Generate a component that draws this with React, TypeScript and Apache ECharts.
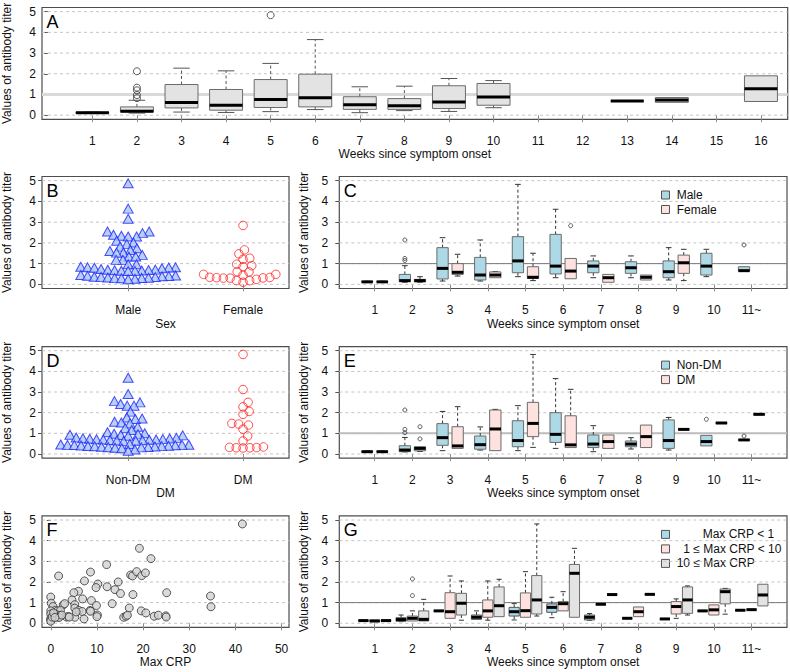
import React, { useEffect, useRef } from 'react';
import * as echarts from 'echarts';

const FONT = "'Liberation Sans', Arial, Helvetica, sans-serif";

// ---------- tick labels ----------
const weeksA = [1, 2, 3, 4, 5, 6, 7, 8, 9, 10, 11, 12, 13, 14, 15, 16];
const weekTicks = [1, 2, 3, 4, 5, 6, 7, 8, 9, 10, 11];
const weekLabels = ['1', '2', '3', '4', '5', '6', '7', '8', '9', '10', '11~'];
const groupTicks = [1, 2];
const sexLabels = ['Male', 'Female'];
const dmLabels = ['Non-DM', 'DM'];
const crpTicks = [0, 10, 20, 30, 40, 50];
const yTicks = [0, 1, 2, 3, 4, 5];

// ---------- Panel A: [week, min, q1, median, q3, max] ----------
const boxA = [
  [1, 0.09, 0.1, 0.12, 0.14, 0.15],
  [2, 0.1, 0.16, 0.19, 0.4, 0.72],
  [3, 0.15, 0.35, 0.61, 1.48, 2.27],
  [4, 0.13, 0.24, 0.48, 1.24, 2.14],
  [5, 0.17, 0.37, 0.76, 1.72, 2.5],
  [6, 0.27, 0.4, 0.84, 1.98, 3.65],
  [7, 0.12, 0.28, 0.5, 0.89, 1.37],
  [8, 0.22, 0.28, 0.46, 0.8, 1.4],
  [9, 0.18, 0.32, 0.63, 1.42, 1.77],
  [10, 0.36, 0.48, 0.88, 1.53, 1.67],
  [13, 0.68, 0.68, 0.68, 0.68, 0.68],
  [14, 0.62, 0.62, 0.73, 0.85, 0.85],
  [16, 0.66, 0.66, 1.28, 1.9, 1.9],
];
const outA = [[2, 2.12], [2, 1.33], [2, 1.2], [2, 0.97], [2, 0.82], [5, 4.83]];

// ---------- Panel B (Sex) ----------
const maleTiter = [
  4.87, 3.65, 3.16,
  2.55, 2.55, 2.47, 2.39, 2.34, 2.31, 2.31,
  2.1, 2.02, 1.94,
  1.82, 1.74, 1.66, 1.61, 1.53, 1.53, 1.42, 1.34, 1.34, 1.18, 1.18, 0.97, 0.97, 0.85,
  0.82, 0.82, 0.81, 0.8, 0.78, 0.74, 0.71, 0.7, 0.69, 0.68, 0.67, 0.66, 0.65, 0.64,
  0.45, 0.43, 0.41, 0.4, 0.39, 0.37, 0.36, 0.35, 0.33, 0.32, 0.31, 0.3, 0.29, 0.27, 0.25,
];
const femaleTiter = [
  2.84, 1.66, 1.47, 1.26, 1.21, 0.97, 0.9, 0.85, 0.61, 0.6, 0.48, 0.48, 0.44,
  0.34, 0.33, 0.32, 0.31, 0.3, 0.3, 0.24, 0.18, 0.18, 0.1,
];

// ---------- Panel C (weekly by sex) ----------
const cMale = [
  [1, 0.1, 0.11, 0.12, 0.14, 0.15],
  [2, 0.1, 0.13, 0.18, 0.48, 0.9],
  [3, 0.16, 0.26, 0.77, 1.77, 2.25],
  [4, 0.16, 0.21, 0.45, 1.3, 2.14],
  [5, 0.37, 0.56, 1.13, 2.3, 4.82],
  [6, 0.32, 0.5, 0.88, 2.41, 3.62],
  [7, 0.32, 0.56, 0.88, 1.13, 1.37],
  [8, 0.32, 0.53, 0.8, 1.09, 1.37],
  [9, 0.21, 0.32, 0.61, 1.13, 1.77],
  [10, 0.37, 0.45, 0.88, 1.5, 1.69],
  [11, 0.64, 0.64, 0.66, 0.85, 0.85],
];
const cMaleOut = [[2, 1.25], [2, 1.15], [2, 2.14], [11, 1.9]];
const cFemale = [
  [1, 0.1, 0.11, 0.12, 0.14, 0.15],
  [2, 0.1, 0.12, 0.18, 0.24, 0.37],
  [3, 0.4, 0.48, 0.58, 1.0, 1.45],
  [4, 0.32, 0.32, 0.45, 0.6, 0.62],
  [5, 0.18, 0.29, 0.34, 0.85, 1.5],
  [6, 0.27, 0.27, 0.64, 1.25, 1.25],
  [7, 0.1, 0.1, 0.32, 0.48, 0.48],
  [8, 0.21, 0.21, 0.34, 0.45, 0.45],
  [9, 0.18, 0.53, 1.04, 1.41, 1.69],
];
const cFemaleOut = [[6, 2.83]];

// ---------- Panel D (DM) ----------
const nonDmTiter = [
  3.69, 2.9, 2.56, 2.5, 2.42, 2.34, 2.34, 2.05, 1.77, 1.72, 1.69, 1.56, 1.52, 1.48, 1.32, 1.25, 1.16,
  1.05, 1.0, 0.98, 0.95, 0.93, 0.92, 0.9, 0.88,
  0.8, 0.78, 0.76, 0.75, 0.74, 0.72, 0.71, 0.7, 0.7, 0.69, 0.68, 0.66, 0.65, 0.64, 0.62,
  0.48, 0.46, 0.45, 0.44, 0.44, 0.43, 0.42, 0.41, 0.4, 0.39, 0.38, 0.37, 0.36, 0.35, 0.34,
  0.33, 0.32, 0.3, 0.28, 0.22, 0.16,
];
const dmTiter = [
  4.82, 3.12, 2.5, 2.28, 2.06, 1.92, 1.48, 1.45, 1.4, 1.2, 0.87, 0.63, 0.34, 0.32, 0.31, 0.3, 0.3, 0.29,
];

// ---------- Panel E (weekly by DM) ----------
const eNonDm = [
  [1, 0.09, 0.1, 0.11, 0.13, 0.14],
  [2, 0.1, 0.11, 0.19, 0.4, 0.8],
  [3, 0.16, 0.42, 0.79, 1.47, 2.06],
  [4, 0.19, 0.23, 0.45, 0.87, 1.31],
  [5, 0.16, 0.35, 0.65, 1.61, 2.34],
  [6, 0.27, 0.56, 0.95, 2.0, 3.65],
  [7, 0.11, 0.31, 0.48, 0.92, 1.37],
  [8, 0.24, 0.35, 0.48, 0.63, 0.79],
  [9, 0.19, 0.27, 0.65, 1.65, 1.77],
  [10, 0.39, 0.39, 0.6, 0.9, 0.9],
  [11, 0.66, 0.66, 0.68, 0.7, 0.7],
];
const eNonDmOut = [[2, 2.13], [2, 1.19], [2, 1.03], [10, 1.68], [11, 0.87]];
const eDm = [
  [1, 0.09, 0.1, 0.11, 0.13, 0.14],
  [2, 0.12, 0.15, 0.27, 0.35, 0.35],
  [3, 0.27, 0.27, 0.39, 1.32, 2.29],
  [4, 0.16, 0.16, 1.21, 2.13, 2.16],
  [5, 0.32, 0.84, 1.48, 2.5, 4.82],
  [6, 0.31, 0.31, 0.44, 1.85, 3.13],
  [7, 0.27, 0.27, 0.6, 0.92, 0.92],
  [8, 0.31, 0.31, 0.84, 1.4, 1.4],
  [9, 1.19, 1.19, 1.19, 1.19, 1.19],
  [10, 1.48, 1.48, 1.5, 1.52, 1.52],
  [11, 1.9, 1.9, 1.92, 1.94, 1.94],
];
const eDmOut = [[2, 1.32], [2, 0.73]];

// ---------- Panel F (Max CRP vs titer) ----------
const crpValues = [
  41.5, 19.2, 21.7, 12.1, 8.6, 1.7, 17.3, 17.7, 18.6, 19.7, 20.5, 7.3, 10.2, 9.8, 12.2, 14.6, 13.9,
  15.1, 17.8, 25.1, 6.0, 5.0, 34.6, 34.7, 6.9, 4.6, 8.8, 0, 0.1, 0.5, 2.7, 3.0, 5.2, 9.9, 13.3, 17.0,
  5.2, 6.1, 6.8, 8.5, 8.6, 10.1, 10.0, 7.2, 5.2, 19.6, 20.6, 15.8, 16.3, 16.6, 22.4, 23.3, 24.9, 25.0,
  1.0, 1.5, 2.1, 1.2, 2.0, 3.4, 3.8, 1.5, 1.8, 0, 0, 0, 0, 0, 0.3, 0.6, 2.4, 4.0, 5.5, 0.9,
];
const crpTiter = [
  4.81, 3.63, 3.13, 2.84, 2.48, 2.29, 2.34, 2.29, 2.5, 2.31, 2.44, 2.05, 1.9, 1.73, 1.77, 2.0, 1.63,
  1.44, 1.39, 1.48, 1.55, 1.48, 1.32, 0.8, 1.18, 1.13, 1.1, 1.27, 0.97, 0.81, 0.89, 0.95, 0.9, 0.86, 0.95, 0.74,
  0.73, 0.62, 0.57, 0.62, 0.58, 0.4, 0.32, 0.21, 0.29, 0.6, 0.5, 0.29, 0.34, 0.39, 0.34, 0.39, 0.36, 0.3,
  0.62, 0.6, 0.62, 0.42, 0.38, 0.3, 0.33, 0.3, 0.28, 0.6, 0.45, 0.24, 0.16, 0.1, 0.3, 0.5, 0.4, 0.3, 0.55, 0.28,
];

// ---------- Panel G (weekly by Max CRP) ----------
const gLow = [
  [1, 0.13, 0.13, 0.13, 0.13, 0.13],
  [2, 0.08, 0.1, 0.18, 0.27, 0.4],
  [3, 0.6, 0.6, 0.6, 0.6, 0.6],
  [4, 0.19, 0.19, 0.29, 0.4, 0.6],
  [5, 0.16, 0.35, 0.56, 0.77, 0.95],
  [6, 0.27, 0.53, 0.77, 0.94, 1.26],
  [7, 0.15, 0.16, 0.29, 0.4, 0.47],
  [8, 0.24, 0.24, 0.24, 0.24, 0.24],
  [9, 0.21, 0.21, 0.21, 0.21, 0.21],
  [10, 0.6, 0.6, 0.6, 0.6, 0.6],
  [11, 0.63, 0.63, 0.63, 0.63, 0.63],
];
const gMid = [
  [1, 0.08, 0.08, 0.11, 0.16, 0.16],
  [2, 0.11, 0.11, 0.24, 0.35, 0.6],
  [3, 0.24, 0.24, 0.56, 1.48, 2.29],
  [4, 0.15, 0.29, 0.6, 1.13, 2.05],
  [5, 0.29, 0.29, 0.61, 1.47, 2.5],
  [6, 0.6, 0.6, 0.95, 1.05, 1.53],
  [7, 0.92, 0.92, 0.92, 0.92, 0.92],
  [8, 0.32, 0.32, 0.56, 0.79, 0.79],
  [9, 0.24, 0.45, 0.81, 1.05, 1.18],
  [10, 0.4, 0.4, 0.65, 0.89, 0.89],
  [11, 0.66, 0.66, 0.66, 0.66, 0.66],
];
const gMidOut = [[2, 2.15], [2, 1.34]];
const gHigh = [
  [1, 0.13, 0.13, 0.13, 0.13, 0.13],
  [2, 0.11, 0.11, 0.19, 0.6, 1.16],
  [3, 0.15, 0.4, 0.97, 1.45, 2.05],
  [4, 0.32, 0.32, 0.85, 1.76, 2.13],
  [5, 0.35, 0.45, 1.13, 2.31, 4.81],
  [6, 0.29, 0.29, 2.42, 2.85, 3.63],
  [7, 1.39, 1.39, 1.39, 1.39, 1.39],
  [8, 1.4, 1.4, 1.4, 1.4, 1.4],
  [9, 0.4, 0.48, 1.13, 1.76, 1.81],
  [10, 0.44, 0.94, 1.53, 1.66, 1.69],
  [11, 0.84, 0.84, 1.37, 1.89, 1.89],
];

// ---------- layout ----------
type Rect = { left: number; top: number; width: number; height: number };
const grids: Rect[] = [
  { left: 42, top: 7.5, width: 745.7, height: 111.8 }, // A
  { left: 42, top: 176.5, width: 247, height: 112 }, // B
  { left: 339.3, top: 176.5, width: 447.7, height: 112 }, // C
  { left: 42, top: 346.6, width: 247, height: 111.5 }, // D
  { left: 339.3, top: 346.6, width: 447.7, height: 111.5 }, // E
  { left: 42, top: 515.9, width: 247, height: 111.5 }, // F
  { left: 339.3, top: 515.9, width: 447.7, height: 111.5 }, // G
];
const Y_MIN = -0.2;
const Y_MAX = 5.2;
const xRanges: [number, number][] = [
  [-0.13, 16.6],
  [0.25, 2.4],
  [0.06, 11.94],
  [0.25, 2.4],
  [0.06, 11.94],
  [-1.9, 51.6],
  [0.06, 11.94],
];

const BLUE = '#add8e6';
const PINK = '#fde2df';
const GREY = '#e3e3e3';
const TXT = '#111111';

function swarmOffsets(values: number[], yPx: number, d: number): number[] {
  const idx = values.map((_, i) => i).sort((a, b) => values[a] - values[b]);
  const placed: { x: number; y: number }[] = [];
  const out = new Array(values.length).fill(0);
  for (const i of idx) {
    const y = values[i] * yPx;
    const near = placed.filter((p) => Math.abs(p.y - y) < d);
    const cands = [0];
    for (const p of near) {
      const dx = Math.sqrt(d * d - (p.y - y) * (p.y - y));
      cands.push(p.x + dx, p.x - dx);
    }
    cands.sort((a, b) => Math.abs(a) - Math.abs(b) || b - a);
    let chosen = 0;
    for (const c of cands) {
      if (near.every((p) => (p.x - c) ** 2 + (p.y - y) ** 2 >= d * d - 1e-6)) {
        chosen = c;
        break;
      }
    }
    placed.push({ x: chosen, y });
    out[i] = chosen;
  }
  return out;
}

function swarmData(values: number[], center: number, gi: number) {
  const g = grids[gi];
  const [x0, x1] = xRanges[gi];
  const yPx = g.height / (Y_MAX - Y_MIN);
  const xPx = g.width / (x1 - x0);
  const offs = swarmOffsets(values, yPx, 6.8);
  return values.map((v, i) => [center + offs[i] / xPx, v]);
}

function boxSeries(gi: number, data: number[][], offset: number, halfW: number, fill: string, stroke: string, whisk: string) {
  return {
    type: 'custom',
    xAxisIndex: gi,
    yAxisIndex: gi,
    z: 3,
    silent: true,
    data,
    encode: { x: 0, y: [1, 2, 3, 4, 5] },
    renderItem: (_params: any, api: any) => {
      const x = api.value(0) + offset;
      const mn = api.value(1), q1 = api.value(2), md = api.value(3), q3 = api.value(4), mx = api.value(5);
      const c = (xx: number, yy: number) => api.coord([xx, yy]);
      const children: any[] = [];
      const dashStyle = { stroke: whisk, lineWidth: 1, lineDash: [3, 2.5], fill: null };
      const capStyle = { stroke: whisk, lineWidth: 1, fill: null };
      const seg = (a: number[], b: number[], style: any) => ({
        type: 'line',
        shape: { x1: a[0], y1: a[1], x2: b[0], y2: b[1] },
        style,
      });
      if (mx > q3) {
        children.push(seg(c(x, q3), c(x, mx), dashStyle));
        children.push(seg(c(x - halfW / 2, mx), c(x + halfW / 2, mx), capStyle));
      }
      if (mn < q1) {
        children.push(seg(c(x, q1), c(x, mn), dashStyle));
        children.push(seg(c(x - halfW / 2, mn), c(x + halfW / 2, mn), capStyle));
      }
      const L = c(x - halfW, q3);
      const R = c(x + halfW, q1);
      children.push({
        type: 'rect',
        shape: { x: L[0], y: L[1], width: R[0] - L[0], height: R[1] - L[1] },
        style: { fill, stroke, lineWidth: 1 },
      });
      children.push(seg(c(x - halfW, md), c(x + halfW, md), { stroke: '#000', lineWidth: 3, fill: null }));
      return { type: 'group', children };
    },
  };
}

function outlierSeries(gi: number, pts: number[][], offset: number, size: number) {
  return {
    type: 'scatter',
    xAxisIndex: gi,
    yAxisIndex: gi,
    z: 4,
    silent: true,
    symbol: 'circle',
    symbolSize: size,
    data: pts.map(([w, v]) => [w + offset, v]),
    itemStyle: { color: 'rgba(0,0,0,0)', borderColor: '#333', borderWidth: 1 },
  };
}

function hLineSeries(gi: number, values: number[], style: any, z: number) {
  const x0 = xRanges[gi][0];
  return {
    type: 'custom',
    xAxisIndex: gi,
    yAxisIndex: gi,
    z,
    silent: true,
    data: values.map((v) => [x0, v]),
    encode: { x: 0, y: 1 },
    renderItem: (params: any, api: any) => {
      const cs = params.coordSys;
      const y = api.coord([api.value(0), api.value(1)])[1];
      return {
        type: 'line',
        shape: { x1: cs.x, y1: y, x2: cs.x + cs.width, y2: y },
        style: style,
      };
    },
  };
}

function labelOf(ticks: number[], labels: string[]) {
  return (v: number) => {
    const i = ticks.findIndex((t) => Math.abs(t - v) < 1e-6);
    return i >= 0 ? labels[i] : '';
  };
}

function xAxisCfg(gi: number, ticks: number[], labels: string[], name: string) {
  return {
    type: 'value',
    gridIndex: gi,
    min: xRanges[gi][0],
    max: xRanges[gi][1],
    axisLine: { show: false },
    splitLine: { show: false },
    axisTick: { show: true, customValues: ticks, length: 7, lineStyle: { color: '#8c8c8c' } },
    axisLabel: {
      customValues: ticks,
      formatter: labelOf(ticks, labels),
      margin: 15.5,
      fontSize: 12,
      color: TXT,
      fontFamily: FONT,
    },
    name,
    nameLocation: 'middle',
    nameGap: 29,
    nameTextStyle: { fontSize: 12, color: TXT, fontFamily: FONT },
  };
}

function yAxisCfg(gi: number, right: boolean) {
  return {
    type: 'value',
    gridIndex: gi,
    min: Y_MIN,
    max: Y_MAX,
    axisLine: { show: false },
    splitLine: { show: false },
    axisTick: { show: true, customValues: yTicks, length: 4, lineStyle: { color: '#555' } },
    axisLabel: {
      customValues: yTicks,
      formatter: (v: number) => String(Math.round(v)),
      margin: right ? 11 : 6,
      fontSize: 12,
      color: TXT,
      fontFamily: FONT,
    },
    name: 'Values of antibody titer',
    nameLocation: 'middle',
    nameGap: 29,
    nameTextStyle: { fontSize: 12, color: TXT, fontFamily: FONT },
  };
}

const gridLineStyle = { stroke: '#c4c4c4', lineWidth: 1, lineDash: [3, 3], fill: null };

function legendGraphics(gi: number, items: { label: string; color: string; dx: number }[]) {
  const g = grids[gi];
  const out: any[] = [];
  items.forEach((it, i) => {
    const cy = g.top + 18.5 + i * 14.5;
    out.push({
      type: 'rect',
      shape: { x: 661.5, y: cy - 4, width: 8, height: 8 },
      style: { fill: it.color, stroke: '#555', lineWidth: 1 },
      silent: true,
    });
    out.push({
      type: 'text',
      x: 676.7 + it.dx,
      y: cy,
      style: {
        text: it.label,
        fill: TXT,
        font: `12px ${FONT}`,
        textAlign: 'left',
        align: 'left',
        textVerticalAlign: 'middle',
        verticalAlign: 'middle',
      },
      silent: true,
    });
  });
  return out;
}

function letterGraphic(gi: number, letter: string) {
  const g = grids[gi];
  return {
    type: 'text',
    x: g.left + 4.5,
    y: g.top + 14.5,
    style: {
      text: letter,
      fill: '#000',
      font: `18px ${FONT}`,
      textAlign: 'left',
      align: 'left',
      textVerticalAlign: 'middle',
      verticalAlign: 'middle',
    },
    silent: true,
  };
}

export default function App() {
  const ref = useRef<HTMLDivElement>(null);
  useEffect(() => {
    if (!ref.current) return;
    const chart = echarts.init(ref.current, undefined, { renderer: 'svg' });

    const series: any[] = [];
    for (let gi = 0; gi < 7; gi++) series.push(hLineSeries(gi, yTicks, gridLineStyle, 1));
    series.push(hLineSeries(0, [1], { stroke: '#d9d9d9', lineWidth: 3, fill: null }, 2));
    series.push(hLineSeries(2, [1], { stroke: '#7a7a7a', lineWidth: 1, fill: null }, 2));
    series.push(hLineSeries(4, [1], { stroke: '#bdbdbd', lineWidth: 2, fill: null }, 2));
    series.push(hLineSeries(6, [1], { stroke: '#7a7a7a', lineWidth: 1, fill: null }, 2));

    // A
    series.push(boxSeries(0, boxA, 0, 0.37, GREY, '#6b6b6b', '#555'));
    series.push(outlierSeries(0, outA, 0, 7));

    // B
    series.push({
      type: 'scatter', xAxisIndex: 1, yAxisIndex: 1, z: 4, silent: true,
      symbol: 'triangle', symbolSize: [10, 9],
      data: swarmData(maleTiter, 1, 1),
      itemStyle: { color: '#a3c7ef', borderColor: '#1f1fff', borderWidth: 1 },
    });
    series.push({
      type: 'scatter', xAxisIndex: 1, yAxisIndex: 1, z: 4, silent: true,
      symbol: 'circle', symbolSize: 8.5,
      data: swarmData(femaleTiter, 2, 1),
      itemStyle: { color: 'rgba(0,0,0,0)', borderColor: '#ff2020', borderWidth: 1 },
    });

    // C
    series.push(boxSeries(2, cMale, -0.2, 0.15, BLUE, '#6b6b6b', '#333'));
    series.push(boxSeries(2, cFemale, 0.2, 0.15, PINK, '#6b6b6b', '#333'));
    series.push(outlierSeries(2, cMaleOut, -0.2, 4));
    series.push(outlierSeries(2, cFemaleOut, 0.2, 4));

    // D
    series.push({
      type: 'scatter', xAxisIndex: 3, yAxisIndex: 3, z: 4, silent: true,
      symbol: 'triangle', symbolSize: [10, 9],
      data: swarmData(nonDmTiter, 1, 3),
      itemStyle: { color: '#a3c7ef', borderColor: '#1f1fff', borderWidth: 1 },
    });
    series.push({
      type: 'scatter', xAxisIndex: 3, yAxisIndex: 3, z: 4, silent: true,
      symbol: 'circle', symbolSize: 8.5,
      data: swarmData(dmTiter, 2, 3),
      itemStyle: { color: 'rgba(0,0,0,0)', borderColor: '#ff2020', borderWidth: 1 },
    });

    // E
    series.push(boxSeries(4, eNonDm, -0.2, 0.15, BLUE, '#6b6b6b', '#333'));
    series.push(boxSeries(4, eDm, 0.2, 0.15, PINK, '#6b6b6b', '#333'));
    series.push(outlierSeries(4, eNonDmOut, -0.2, 4));
    series.push(outlierSeries(4, eDmOut, 0.2, 4));

    // F
    series.push({
      type: 'scatter', xAxisIndex: 5, yAxisIndex: 5, z: 4, silent: true,
      symbol: 'circle', symbolSize: 8,
      data: crpValues.map((c, i) => [c, crpTiter[i]]),
      itemStyle: { color: '#d2d2d2', borderColor: '#333', borderWidth: 1 },
    });

    // G
    series.push(boxSeries(6, gLow, -0.3, 0.135, BLUE, '#555', '#333'));
    series.push(boxSeries(6, gMid, 0, 0.135, PINK, '#6b6b6b', '#333'));
    series.push(boxSeries(6, gHigh, 0.3, 0.135, GREY, '#6b6b6b', '#333'));
    series.push(outlierSeries(6, gMidOut, 0, 4));

    const graphic: any[] = [
      letterGraphic(0, 'A'),
      letterGraphic(1, 'B'),
      letterGraphic(2, 'C'),
      letterGraphic(3, 'D'),
      letterGraphic(4, 'E'),
      letterGraphic(5, 'F'),
      letterGraphic(6, 'G'),
      ...legendGraphics(2, [
        { label: 'Male', color: BLUE, dx: 0 },
        { label: 'Female', color: PINK, dx: 0 },
      ]),
      ...legendGraphics(4, [
        { label: 'Non-DM', color: BLUE, dx: 0 },
        { label: 'DM', color: PINK, dx: 0 },
      ]),
      ...legendGraphics(6, [
        { label: 'Max CRP < 1', color: BLUE, dx: 26 },
        { label: '1 \u2264 Max CRP < 10', color: PINK, dx: 6.6 },
        { label: '10 \u2264 Max CRP', color: GREY, dx: 0 },
      ]),
    ];

    chart.setOption({
      animation: false,
      backgroundColor: '#ffffff',
      textStyle: { fontFamily: FONT },
      grid: grids.map((g) => ({
        ...g,
        show: true,
        borderColor: '#4d4d4d',
        borderWidth: 1.2,
        backgroundColor: 'rgba(0,0,0,0)',
        containLabel: false,
        outerBoundsMode: 'none',
      })),
      xAxis: [
        xAxisCfg(0, weeksA, weeksA.map(String), 'Weeks since symptom onset'),
        xAxisCfg(1, groupTicks, sexLabels, 'Sex'),
        xAxisCfg(2, weekTicks, weekLabels, 'Weeks since symptom onset'),
        xAxisCfg(3, groupTicks, dmLabels, 'DM'),
        xAxisCfg(4, weekTicks, weekLabels, 'Weeks since symptom onset'),
        xAxisCfg(5, crpTicks, crpTicks.map(String), 'Max CRP'),
        xAxisCfg(6, weekTicks, weekLabels, 'Weeks since symptom onset'),
      ],
      yAxis: [
        yAxisCfg(0, false),
        yAxisCfg(1, false),
        yAxisCfg(2, true),
        yAxisCfg(3, false),
        yAxisCfg(4, true),
        yAxisCfg(5, false),
        yAxisCfg(6, true),
      ],
      series,
      graphic,
    });
    return () => chart.dispose();
  }, []);
  return (
    <div
      ref={ref}
      style={{ position: 'fixed', left: 0, top: 0, width: 790, height: 672, background: '#fff' }}
    />
  );
}
